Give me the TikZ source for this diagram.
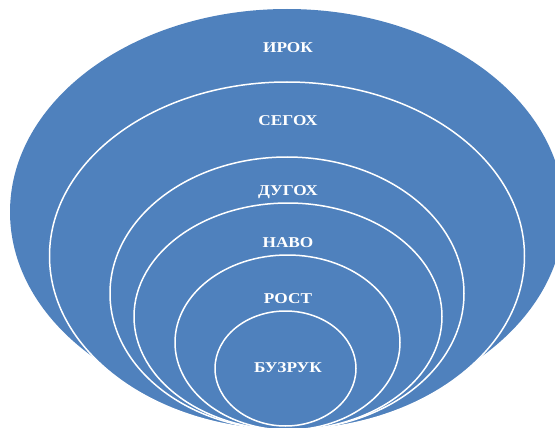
\documentclass[tikz,border=0pt]{standalone}
\usepackage{fontspec}
\setmainfont{Liberation Serif}
\newfontfamily\ringfont[FakeStretch=1.15]{Liberation Serif}
\definecolor{ringblue}{RGB}{79,129,189}

\begin{document}
\begin{tikzpicture}[x=1pt,y=-1pt]
 % styles
 \tikzstyle{outer} = [fill=ringblue];
 \tikzstyle{ring} = [fill=ringblue,draw=white,line width=1.5pt];
 \tikzstyle{lbl} = [text=white,font=\ringfont\fontsize{15}{18}\selectfont\bfseries];

 \useasboundingbox (0,0) rectangle (555,428);
 \clip (0,0) rectangle (555,428);

 % rings, outside in
 \fill[outer] (287,212) ellipse [x radius=277, y radius=203];
 \draw[ring] (287,256) ellipse [x radius=237.5, y radius=174];
 \draw[ring] (287,293.5) ellipse [x radius=177, y radius=136.5];
 \draw[ring] (288,316.5) ellipse [x radius=154, y radius=113.5];
 \draw[ring] (287.5,342.5) ellipse [x radius=112.5, y radius=87.5];
 \draw[ring] (285.5,368.5) ellipse [x radius=70.5, y radius=57.5];

 % labels
 \node[lbl] (irok)   at (288,48)  {ИРОК};
 \node[lbl] (segoh)  at (288,121) {СЕГОХ};
 \node[lbl] (dugoh)  at (288,192) {ДУГОХ};
 \node[lbl] (navo)   at (288,243) {НАВО};
 \node[lbl] (rost)   at (288,299) {РОСТ};
 \node[lbl] (buzruk) at (288,368) {БУЗРУК};
\end{tikzpicture}
\end{document}
